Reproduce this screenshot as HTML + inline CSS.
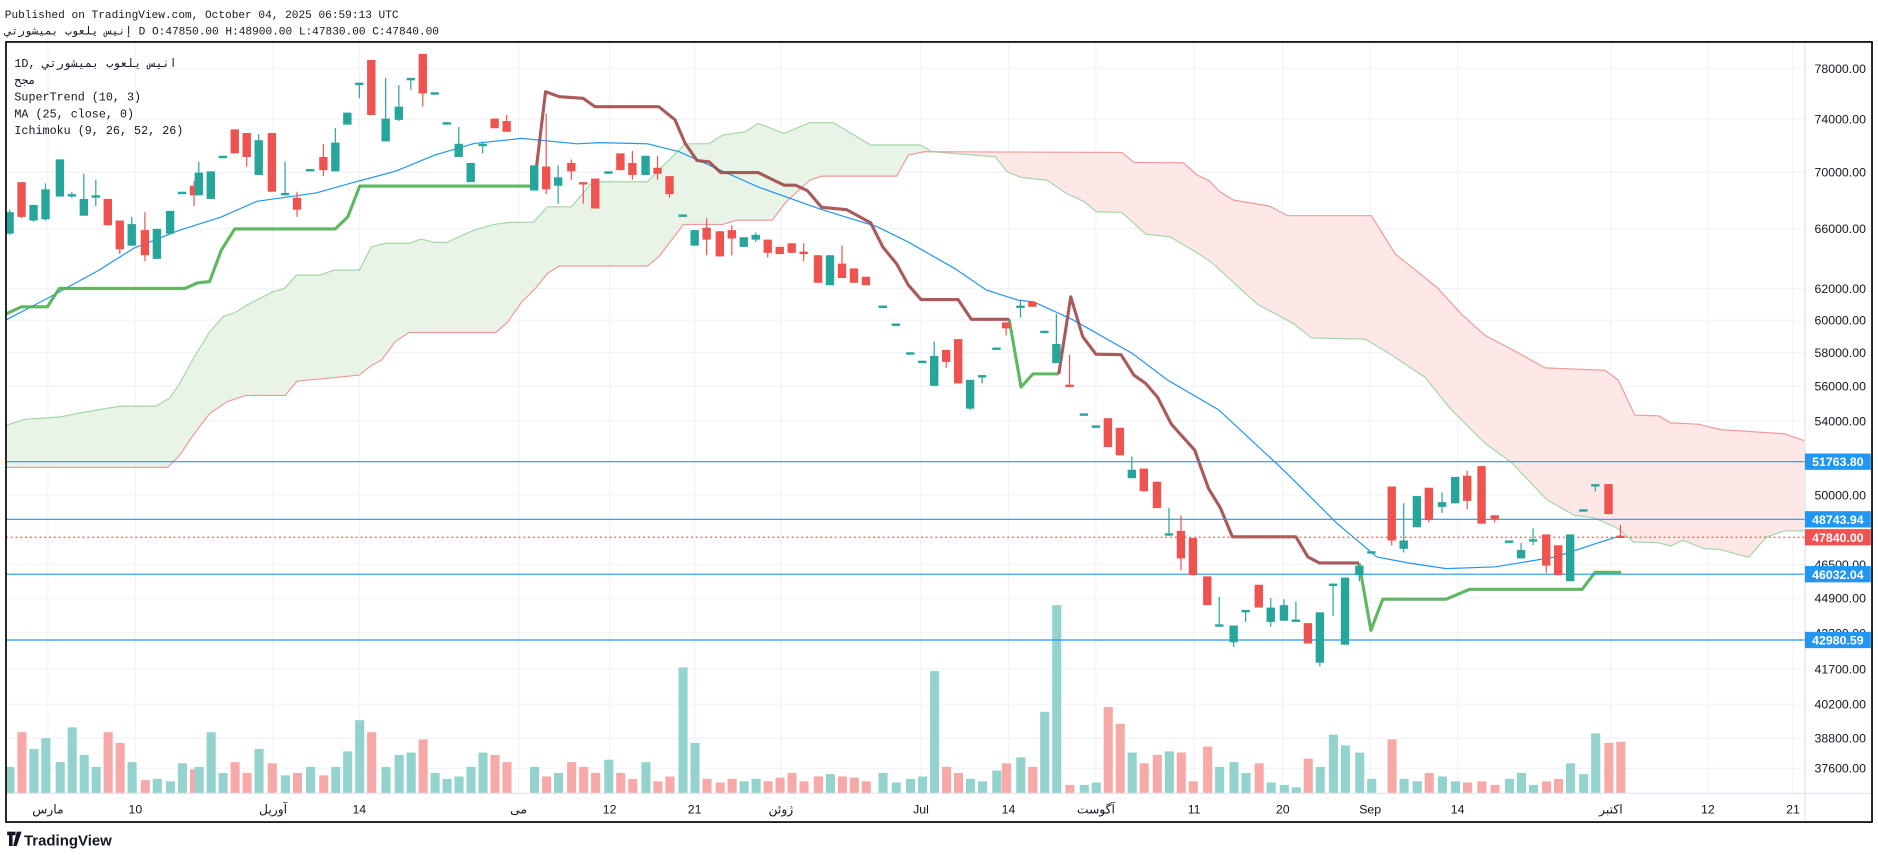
<!DOCTYPE html>
<html><head><meta charset="utf-8"><style>
html,body{margin:0;padding:0;background:#fff;}
svg{display:block;}
</style></head><body>
<svg id="s" xmlns="http://www.w3.org/2000/svg" width="1878" height="858" viewBox="0 0 1568 716" preserveAspectRatio="none">
<rect width="1568" height="716" fill="#fff"/>
<g id="grid"></g>
<g id="cloud"></g>
<g id="vol"></g>
<g id="lines"></g>
<g id="candles"></g>
<g id="axis"></g>
<text x="4" y="15" font-family="Liberation Mono, DejaVu Sans Mono, monospace" font-size="9.3" fill="#131722">Published on TradingView.com, October 04, 2025 06:59:13 UTC</text>
<text x="4" y="29" font-family="Liberation Mono, DejaVu Sans Mono, monospace" font-size="9.3" fill="#131722"><tspan>إنيس يلعوب بميشورتي</tspan> D O:47850.00 H:48900.00 L:47830.00 C:47840.00</text>
<g font-family="Liberation Mono, DejaVu Sans Mono, monospace" font-size="9.8" fill="#131722">
<text x="12" y="56">1D, <tspan>انيس يلعوب بميشورتي</tspan></text>
<text x="12" y="70">مجح</text>
<text x="12" y="84">SuperTrend (10, 3)</text>
<text x="12" y="98">MA (25, close, 0)</text>
<text x="12" y="112">Ichimoku (9, 26, 52, 26)</text>
</g>
<rect x="5" y="35" width="1558" height="651" fill="none" stroke="#000" stroke-width="1.4"/>
<g transform="translate(6,694)"><path d="M0 0h7v3h-2.5v9h-3v-9h-1.5z M8 0h4l-4 12h-3z" fill="#131722"/><text x="14" y="11.5" font-family="Liberation Sans, sans-serif" font-weight="bold" font-size="12.5" fill="#131722">TradingView</text></g>
</svg>
<script>
const NS="http://www.w3.org/2000/svg";
function el(p,t,a,txt){const e=document.createElementNS(NS,t);for(const k in a)e.setAttribute(k,a[k]);if(txt!==undefined)e.textContent=txt;document.getElementById(p).appendChild(e);return e;}
const R=1507;
const Y=p=>9071-800.2*Math.log(p);
// grid
const prices=[78000,74000,70000,66000,62000,60000,58000,56000,54000,50000,46500,44900,43300,41700,40200,38800,37600];
prices.forEach(p=>{const y=Y(p);el('grid','line',{x1:5,x2:R,y1:y,y2:y,stroke:'#f0f3fa','stroke-width':1});});
const tl=[[40,'مارس'],[113,'10'],[228,'آوریل'],[300,'14'],[433,'می'],[509,'12'],[580,'21'],[652,'ژوئن'],[769,'Jul'],[842,'14'],[915,'آگوست'],[997,'11'],[1071,'20'],[1144,'Sep'],[1217,'14'],[1345,'اکتبر'],[1426,'12'],[1497,'21']];
tl.forEach(t=>el('grid','line',{x1:t[0],x2:t[0],y1:35,y2:662,stroke:'#f0f3fa','stroke-width':1}));
// cloud
const A=[[5,355],[20,350],[50,348],[70,344],[100,339],[130,339],[142,332],[150,320],[161,300],[175,277],[186.5,264],[196,261],[206,254.7],[227.7,243.5],[237.6,240.7],[247.5,229.6],[267,229.6],[279,225.4],[300,225.4],[310,206],[321.8,203],[341.6,203],[351.5,199.5],[363,202.3],[373,202.3],[394.4,192.6],[412.5,187.3],[425.7,185.6],[445.5,185.4],[457,172.6],[477,172.6],[495,151.7],[540.6,151.7],[572,120],[592,120],[603.3,112.7],[622.2,110],[633,103],[654.5,111.3],[676,102.4],[695.7,102.4],[727,121],[768.3,121],[778,126.6],[830.9,130.8],[840.9,143.3],[852.5,148],[874,150.3],[890.5,161.4],[905.4,168.4],[915.3,176.7],[936.8,177.3],[956.6,195.4],[976.6,197.6],[998,210],[1011,218.5],[1018.5,225.4],[1050,254],[1080,270],[1095,282],[1140,283],[1160,295],[1190,315],[1210,340],[1240,370],[1261.6,385.5],[1291.3,416.9],[1314.4,430],[1331,432],[1350.8,441],[1364,452.3],[1383.7,452.8],[1395,455.6],[1405,450.9],[1423,457.8],[1435.6,458.5],[1460,465],[1475,448],[1490,443],[1507,443]];
const B=[[5,390],[140,390],[150,380],[160,365],[175,345],[190,335],[205,330],[238,330],[248,318],[270,316],[300,313],[310,305],[318.5,300.6],[330,285],[341.6,277.5],[414,277.5],[424,268.6],[435.6,251.9],[447,240.7],[457,228.2],[467,222],[540.6,222],[550.5,213.7],[570.6,187.3],[603.3,187.3],[615,183.7],[644.8,183.7],[656.3,168.4],[676.2,150.3],[686,147],[748.6,147],[758.5,129.4],[771.7,126.6],[936.8,127.2],[946.7,135.5],[988,135.9],[999.5,146],[1009.5,150.8],[1018.5,160],[1030,167],[1060,172],[1075,180],[1145,180],[1165,212],[1185,228],[1200,240],[1220,262],[1240,280],[1265,293],[1290,307],[1340,309],[1351,317],[1365,346.5],[1384.9,347],[1394.8,352.9],[1418,354],[1436.8,358.5],[1490,362],[1507,368]];
function ip(L,x){for(let i=0;i<L.length-1;i++){if(x>=L[i][0]&&x<=L[i+1][0]){const t=(x-L[i][0])/(L[i+1][0]-L[i][0]);return L[i][1]+t*(L[i+1][1]-L[i][1]);}}return L[L.length-1][1];}
function seg(L,a,b){const r=[[a,ip(L,a)]];L.forEach(p=>{if(p[0]>a&&p[0]<b)r.push(p);});r.push([b,ip(L,b)]);return r;}
function poly(a,b,fill){const pa=seg(A,a,b),pb=seg(B,a,b).reverse();el('cloud','polygon',{points:pa.concat(pb).map(p=>p.join(',')).join(' '),fill:fill});}
poly(5,774,'#e8f4e8');poly(774,1507,'#fde8e7');
const pl=L=>L.map(p=>p.join(',')).join(' ');
el('cloud','polyline',{points:pl(A),fill:'none',stroke:'#a5d6a7','stroke-width':1});
el('cloud','polyline',{points:pl(B),fill:'none',stroke:'#ef9a9a','stroke-width':1});
// candles [x,top,bot,wtop,wbot,col,voltop]
const C=[[8,177,195,175,196,'g',640],[18,152,181,152,182,'r',611],[28,171,184,171,185,'g',625],[38,158,183,153,184,'g',616],[50,133,164,133,164,'g',636],[60,162,164,160,165,'g',607],[70,166,180,145,180,'g',630],[80,163,165,150,172,'g',640],[90,166,188,166,188,'r',611],[100,184,208,184,212,'r',620],[110,187,205,181,205,'g',636],[121,192,213,177,218,'r',651],[131,191,216,191,216,'g',650],[142,176,195,176,195,'g',652],[152,160,162,160,162,'g',637],[162,155,163,151,172,'r',642],[166,144,163,135,163,'g',640],[176,143,166,143,166,'g',611],[186,130,132,130,132,'g',645],[196,108,128,108,128,'r',636],[206,111,131,111,139,'r',645],[216,117,146,112,146,'g',625],[227,111,160,111,160,'r',637],[238,161,163,135,163,'g',647],[248,165,175,160,181,'r',645],[259,141,143,141,143,'g',640],[270,131,142,120,147,'r',647],[280,119,143,107,143,'g',640],[290,94,104,94,104,'g',627],[300,69,71,69,82,'g',601],[310,50,96,50,96,'r',611],[322,99,118,65,118,'g',640],[333,89,100,71,101,'g',630],[343,65,67,65,75,'g',628],[353,45,78,45,89,'r',617],[363,77,79,77,79,'g',645],[373,102,104,102,104,'g',650],[383,120,131,106,131,'g',648],[393,136,152,136,152,'g',640],[403,120,122,118,128,'g',628],[413,99,107,99,107,'r',630],[423,101,110,96,110,'r',636],[446,138,159,138,159,'g',640],[456,139,158,95,162,'r',648],[466,148,155,138,170,'g',645],[477,136,143,133,150,'r',636],[487,152,154,152,170,'r',640],[497,149,174,149,174,'r',645],[508,143,145,143,145,'g',634],[518,128,142,128,142,'r',645],[528,136,146,126,150,'r',650],[539,130,146,130,146,'g',636],[549,140,145,130,150,'r',652],[559,147,162,147,165,'r',648],[570,179,181,179,181,'g',557],[580,192,205,192,205,'g',620],[590,190,200,182,213,'r',650],[601,193,214,193,214,'r',653],[611,192,199,188,213,'r',650],[621,198,206,198,206,'g',652],[631,196,200,194,202,'g',650],[641,200,211,200,215,'r',652],[651,206,212,206,212,'r',649],[661,203,211,203,211,'r',645],[671,210,212,203,218,'r',652],[683,213,236,213,236,'r',648],[693,213,238,213,238,'g',646],[703,220,232,205,232,'r',648],[713,224,236,224,236,'r',649],[723,231,238,231,238,'r',652],[737,255,257,255,257,'g',645],[748,270,272,270,272,'g',653],[760,294,296,294,296,'g',650],[770,301,303,301,303,'g',648],[780,297,322,285,322,'g',560],[790,292,302,292,307,'r',640],[800,283,320,283,320,'r',645],[810,317,341,317,342,'g',650],[820,313,315,313,320,'g',652],[832,290,292,290,292,'g',643],[840,269,274,269,280,'r',637],[852,255,257,250,265,'g',632],[862,252,256,252,256,'r',640],[872,276,278,276,278,'g',594],[882,287,303,262,303,'g',505],[893,321,323,296,323,'r',655],[905,345,347,345,347,'g',655],[915,355,357,355,357,'g',653],[925,349,373,349,373,'r',590],[935,357,380,357,380,'r',604],[945,392,399,381,399,'g',628],[955,391,410,391,410,'r',637],[966,402,424,402,424,'r',630],[976,445,447,424,447,'g',627],[986,443,466,430,476,'r',628],[996,449,480,449,480,'r',652],[1008,481,505,481,505,'r',623],[1018,521,523,498,523,'g',640],[1030,522,536,522,540,'g',636],[1040,509,511,509,519,'g',645],[1051,488,507,488,507,'r',637],[1061,507,519,499,523,'g',653],[1072,505,518,500,518,'g',655],[1082,517,519,502,519,'g',657],[1092,520,537,520,537,'r',633],[1102,511,553,511,556,'g',640],[1113,487,489,487,514,'g',613],[1123,482,538,482,538,'g',622],[1135,472,480,472,485,'g',628],[1145,460,462,460,462,'g',650],[1162,406,451,406,455,'r',617],[1172,451,458,420,461,'g',650],[1183,414,440,414,440,'g',652],[1193,407,434,407,436,'r',645],[1204,419,423,411,428,'g',648],[1215,398,420,398,420,'g',652],[1225,397,418,393,425,'r',653],[1237,389,437,389,437,'r',652],[1248,430,433,430,436,'r',655],[1260,451,453,451,453,'g',650],[1270,459,466,453,466,'g',645],[1280,450,452,441,455,'g',655],[1291,446,472,446,478,'r',652],[1301,455,480,455,480,'r',650],[1311,446,485,446,485,'g',637],[1322,425,427,425,427,'g',646],[1332,404,406,404,410,'g',612],[1343,404,429,404,429,'r',620],[1353,447,449,438,449,'r',619]];
C.forEach(c=>{const col=c[5]=='g'?'#26a69a':'#ef5350';const vc=c[5]=='g'?'#94d3cd':'#f7a9a7';
el('vol','rect',{x:c[0]-3.5,y:c[6],width:7.6,height:662-c[6],fill:vc});
el('candles','line',{x1:c[0],x2:c[0],y1:c[3],y2:c[4],stroke:col,'stroke-width':1});
el('candles','rect',{x:c[0]-3.5,y:c[1],width:7,height:Math.max(1.3,c[2]-c[1]),fill:col});});
// MA
const MA=[[5,267],[39.6,249],[82.5,225.5],[112,207],[148.5,192.6],[184.8,181],[214.5,168],[264,161],[297,151.7],[330,143],[363,129.4],[396,119.7],[435.6,115.5],[481.8,120],[501,119],[540.6,120],[567,126.6],[633,156],[685.6,174.8],[731.8,189],[758,201.8],[797,224],[823.5,242],[850,250.5],[863,251.9],[896,267],[945.5,295],[974.6,317],[1017.5,342],[1070.3,391],[1116.6,437],[1149.6,464.8],[1176,469.8],[1207.5,474.5],[1248.8,473],[1298.3,464.8],[1353.7,446.7]];
el('lines','polyline',{points:pl(MA),fill:'none',stroke:'#2196f3','stroke-width':1});
// supertrend
const G=[[[5,262],[18,256],[39.6,256],[49.5,240.7],[154.5,240.7],[165,236],[175,235],[184.8,208.7],[196,191],[280,191],[290.4,181],[300.3,155.3],[446,155.3]],[[842.6,266.5],[852.5,323],[862.5,312],[884,312]],[[1134.7,469.8],[1144.6,526],[1154.5,500],[1207.4,500],[1227,491.8],[1321,491.8],[1331.7,477.6],[1353.5,477.6]]];
const Rd=[[[446,155.3],[455.5,76.5],[467,80.7],[486.8,82],[496.7,89],[550,89],[563.6,100],[572,119.5],[582,134],[592,135],[601.7,144],[633,144],[654.5,154.5],[664,154.5],[674,159],[686,173],[707,175],[727,186],[737,206],[748.5,220],[758.5,238],[769,250],[800,250],[811,266.5],[842.6,266.5]],[[884,312],[894,247.7],[904,281],[915,295.6],[936,296],[946.7,313],[956.6,320],[966.5,331.5],[978,354],[997.5,375.7],[1009,407.6],[1019,424],[1029,448],[1082,448],[1092,464.8],[1101.7,469.8],[1134.7,469.8]]];
G.forEach(s=>el('lines','polyline',{points:pl(s),fill:'none',stroke:'#4caf50','stroke-width':2.6,'stroke-linejoin':'round','stroke-opacity':0.9}));
Rd.forEach(s=>el('lines','polyline',{points:pl(s),fill:'none',stroke:'#a04848','stroke-width':2.6,'stroke-linejoin':'round','stroke-opacity':0.9}));
// horizontal levels
[[51763.8],[48743.94],[46032.04],[42980.59]].forEach(v=>{const y=Y(v[0]);el('lines','line',{x1:5,x2:R,y1:y,y2:y,stroke:'#2196f3','stroke-width':1});});
const yc=Y(47840);el('lines','line',{x1:5,x2:R,y1:yc,y2:yc,stroke:'#ef5350','stroke-width':1,'stroke-dasharray':'1.5,2.5'});
// axis
el('axis','line',{x1:R,x2:R,y1:35,y2:686,stroke:'#e0e3eb','stroke-width':1});
el('axis','line',{x1:5,x2:1563,y1:662,y2:662,stroke:'#e0e3eb','stroke-width':1});
const F='Liberation Sans, DejaVu Sans, sans-serif';
prices.forEach(p=>el('axis','text',{x:1515,y:Y(p)+3.7,'font-family':F,'font-size':10.3,fill:'#131722'},p.toFixed(2)));
[[51763.8,'#2196f3'],[48743.94,'#2196f3'],[47840,'#ef5350'],[46032.04,'#2196f3'],[42980.59,'#2196f3']].forEach(b=>{const y=Y(b[0]);el('axis','rect',{x:1507,y:y-6.8,width:55,height:13.6,fill:b[1]});el('axis','text',{x:1534.5,y:y+3.8,'text-anchor':'middle','font-family':F,'font-size':10.3,'font-weight':'bold',fill:'#fff'},b[0].toFixed(2));});
tl.forEach(t=>el('axis','text',{x:t[0],y:679,'text-anchor':'middle','font-family':'Liberation Sans, DejaVu Sans, sans-serif','font-size':10.3,fill:'#131722'},t[1]));
</script>
</body></html>
